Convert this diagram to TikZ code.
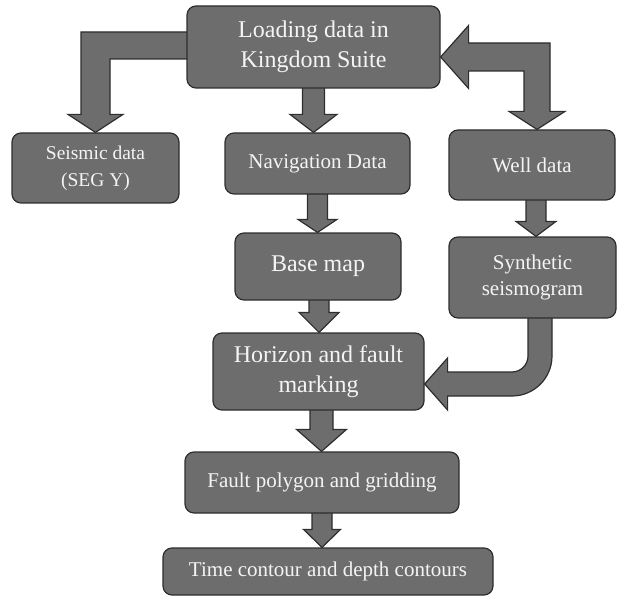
\documentclass[tikz,border=0pt]{standalone}
\usepackage{fontspec}
\setmainfont{Liberation Serif}
\usetikzlibrary{calc}
\definecolor{boxgray}{HTML}{6D6D6D}
\definecolor{edgegray}{HTML}{2E2E2E}
\definecolor{txt}{HTML}{F4F4F4}
\pgfdeclarelayer{background}
\pgfsetlayers{background,main}
\tikzset{
  stepbox/.style={draw=edgegray, line width=1.2pt, fill=boxgray, rounded corners=9pt,
    text=txt, align=center, inner sep=0pt},
  blockarrow/.style={draw=edgegray, line width=1.2pt, fill=boxgray, line join=miter},
  big/.style={font=\fontsize{24}{30}\selectfont},
  mid/.style={font=\fontsize{21}{26}\selectfont},
  small/.style={font=\fontsize{19.5}{27}\selectfont}
}
\newcommand\vblock[6]{%
  \path[blockarrow] let \p1=($(#1.south)+(#6,0)$), \p2=(#2.north) in
   (\x1-#3pt,\y1+3pt) -- (\x1-#3pt,\y2+#5pt) -- (\x1-#4pt,\y2+#5pt) -- (\x1,\y2)
   -- (\x1+#4pt,\y2+#5pt) -- (\x1+#3pt,\y2+#5pt) -- (\x1+#3pt,\y1+3pt) -- cycle;}
\begin{document}
\begin{tikzpicture}[x=1pt,y=-1pt]
\useasboundingbox (0,0) rectangle (618,596);
\node[stepbox,big,minimum width=253pt,minimum height=82pt] (load) at (313.5,47) {Loading data in\\Kingdom Suite};
\node[stepbox,small,minimum width=167pt,minimum height=70pt] (seis) at (95.5,168) {Seismic data\\(SEG Y)};
\node[stepbox,mid,minimum width=185pt,minimum height=61pt] (nav) at (317.5,163.5) {Navigation Data};
\node[stepbox,mid,minimum width=166pt,minimum height=70pt] (well) at (532,165) {Well data};
\node[stepbox,big,minimum width=166pt,minimum height=67pt] (base) at (318,266.5) {Base map};
\node[stepbox,mid,minimum width=167pt,minimum height=81pt] (syn) at (532.5,277.5) {Synthetic\\seismogram};
\node[stepbox,big,minimum width=211pt,minimum height=77pt] (hor) at (318.5,371.5) {Horizon and fault\\marking};
\node[stepbox,mid,minimum width=274pt,minimum height=61pt] (fault) at (322,482.5) {Fault polygon and gridding};
\node[stepbox,mid,minimum width=330pt,minimum height=47pt] (time) at (328,571.5) {Time contour and depth contours};
\begin{pgfonlayer}{background}
\vblock{load}{nav}{11}{23.5}{18}{0}
\vblock{nav}{base}{10}{19.5}{13}{0}
\vblock{base}{hor}{10}{20}{20}{1}
\vblock{hor}{fault}{11.5}{25}{22}{3}
\vblock{fault}{time}{10}{18.5}{18}{0}
\vblock{well}{syn}{10}{20}{15}{4}
% Loading -> Seismic (elbow)
\path[blockarrow] let \p1=($(load.west)+(0,-1.5)$), \p2=(seis.north) in
  (\x1+3pt,\y1+13.5pt) -- (\x2-14.5pt,\y1+13.5pt) -- (\x2-14.5pt,\y2+18pt)
  -- (\x2-27.5pt,\y2+18pt) -- (\x2,\y2) -- (\x2+27.5pt,\y2+18pt) -- (\x2+14.5pt,\y2+18pt)
  -- (\x2+14.5pt,\y1-13.5pt) -- (\x1+3pt,\y1-13.5pt) -- cycle;
% Well <-> Loading (double elbow)
\path[blockarrow] let \p1=($(load.east)+(0,10)$), \p2=($(well.north)+(5,0)$) in
  (\x1,\y1) -- (\x1+28pt,\y1+31.5pt) -- (\x1+28pt,\y1+14pt) -- (\x2+13pt,\y1+14pt)
  -- (\x2+13pt,\y2+18pt) -- (\x2+28pt,\y2+18pt) -- (\x2,\y2) -- (\x2-28pt,\y2+18pt)
  -- (\x2-13pt,\y2+18pt) -- (\x2-13pt,\y1-14pt) -- (\x1+28pt,\y1-14pt)
  -- (\x1+28pt,\y1-31.5pt) -- cycle;
% Synthetic -> Horizon (curved)
\path[blockarrow] let \p1=($(syn.south)+(7.5,0)$), \p2=($(hor.east)+(0,12.5)$) in
  (\x1+12pt,\y1+3pt) -- (\x1+12pt,\y2+28pt)
  .. controls (\x1+12pt,\y2+5.9pt) and (\x1-5.9pt,\y2-12pt) .. (\x1-28pt,\y2-12pt)
  -- (\x2+23pt,\y2-12pt) -- (\x2+23pt,\y2-26pt) -- (\x2,\y2) -- (\x2+23pt,\y2+26pt)
  -- (\x2+23pt,\y2+12pt) -- (\x1-28pt,\y2+12pt)
  .. controls (\x1-19.2pt,\y2+12pt) and (\x1-12pt,\y2+19.2pt) .. (\x1-12pt,\y2+28pt)
  -- (\x1-12pt,\y1+3pt) -- cycle;
\end{pgfonlayer}
\end{tikzpicture}
\end{document}
